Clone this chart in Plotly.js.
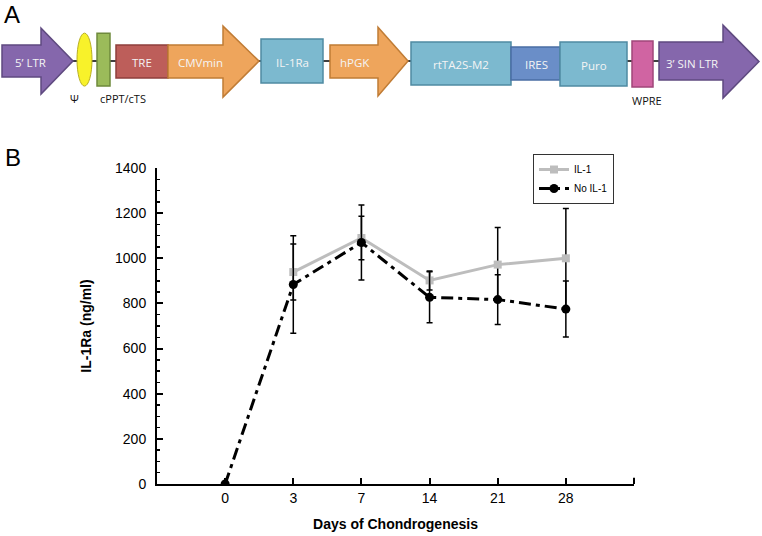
<!DOCTYPE html>
<html>
<head>
<meta charset="utf-8">
<script src="https://cdn.plot.ly/plotly-3.0.1.min.js"></script>
<style>
  body { margin: 0; background: #fff; }
  #plot { width: 762px; height: 536px; }
</style>
</head>
<body>
<div id="plot"></div>
<script>
// Panel B data
var days = ['0', '3', '7', '14', '21', '28'];
var il1Days = ['3', '7', '14', '21', '28'];
var il1Mean = [939, 1090, 902, 972, 1000];
var il1Err = [124, 96, 42, 164, 221];
var noIl1Mean = [0, 884, 1070, 827, 817, 775];
var noIl1Err = [0, 216, 166, 113, 110, 124];

// Panel A construct elements, left to right
var constructLabels = ['5\u2019 LTR', 'TRE', 'CMVmin', 'IL-1Ra', 'hPGK', 'rtTA2S-M2', 'IRES', 'Puro', '3\u2019 SIN LTR'];
var constructNotes = ['\u03a8', 'cPPT/cTS', 'WPRE'];

// plot area in pixels: x 157..634, y 168..484
var L = 157, R = 634, T = 168, B = 484.3;
function px(x) { return (x - L) / (R - L); }
function py(y) { return (B - y) / (B - T); }

// helper: arrow shape path (body then head), given in pixels
function arrowPath(x0, x1, x2, yb0, yb1, yh0, yh1, ym) {
  return 'M' + px(x0) + ',' + py(yb0) + ' L' + px(x1) + ',' + py(yb0) +
    ' L' + px(x1) + ',' + py(yh0) + ' L' + px(x2) + ',' + py(ym) +
    ' L' + px(x1) + ',' + py(yh1) + ' L' + px(x1) + ',' + py(yb1) +
    ' L' + px(x0) + ',' + py(yb1) + ' Z';
}
function box(x0, y0, x1, y1, fill, edge) {
  return {type: 'rect', xref: 'paper', yref: 'paper', x0: px(x0), x1: px(x1), y0: py(y1), y1: py(y0),
    fillcolor: fill, line: {color: edge, width: 1.5}, layer: 'above'};
}
function arrow(pathStr, fill, edge) {
  return {type: 'path', xref: 'paper', yref: 'paper', path: pathStr,
    fillcolor: fill, line: {color: edge, width: 1.5}, layer: 'above'};
}
function label(t, x, y, size, color) {
  return {text: t, xref: 'paper', yref: 'paper', x: px(x), y: py(y), xanchor: 'center', yanchor: 'middle',
    showarrow: false, font: {family: 'Open Sans, sans-serif', size: size, color: color}};
}

var purple = '#8567ac', purpleEdge = '#5f4a80';
var orange = '#eea55c', orangeEdge = '#c07c35';
var teal = '#7cb9cf', tealEdge = '#4f8ba2';

var shapes = [
  // backbone
  {type: 'line', xref: 'paper', yref: 'paper', x0: px(70), x1: px(662), y0: py(61), y1: py(61),
    line: {color: '#000', width: 1.5}, layer: 'above'},
  arrow(arrowPath(2, 41, 73, 45, 77, 28, 94, 61), purple, purpleEdge),
  {type: 'circle', xref: 'paper', yref: 'paper', x0: px(77), x1: px(92), y0: py(86), y1: py(33),
    fillcolor: '#f8f22a', line: {color: '#b9b020', width: 1}, layer: 'above'},
  box(97, 33, 110, 86, '#9bbb5a', '#6f8a3c'),
  box(116, 45, 168, 78, '#bd5e5a', '#8f3f3c'),
  arrow(arrowPath(168, 223, 259, 45, 78, 26, 97, 61), orange, orangeEdge),
  box(261, 39, 323, 83, teal, tealEdge),
  arrow(arrowPath(330, 378, 408, 45, 78, 27, 96, 61), orange, orangeEdge),
  box(411, 42, 511, 85, teal, tealEdge),
  box(511, 47, 560, 80, '#6a8ec8', '#4a6da4'),
  box(560, 42, 627, 86, teal, tealEdge),
  {type: 'rect', xref: 'paper', yref: 'paper', x0: px(632), x1: px(653), y0: py(87), y1: py(41),
    fillcolor: '#d064a2', line: {color: '#a0467a', width: 1.5}, layer: 'above'},
  arrow(arrowPath(659, 723, 759, 42, 80, 25, 98, 61.5), purple, purpleEdge),
  // right-end tick on x axis
  {type: 'line', xref: 'paper', yref: 'paper', x0: 1, x1: 1, y0: 0, y1: py(478),
    line: {color: '#000', width: 2}}
];

var labelPos = [[30, 62], [142, 62], [200, 62], [292, 62], [355, 62], [461, 64], [536, 64], [594, 65], [692, 63]];
var notePos = [[74, 98], [123, 98], [647, 100]];

var annotations = [];
constructLabels.forEach(function (t, i) {
  annotations.push(label(t, labelPos[i][0], labelPos[i][1], 11.5, '#f4f4f4'));
});
constructNotes.forEach(function (t, i) {
  annotations.push(label(t, notePos[i][0], notePos[i][1], 11, '#111'));
});
var panelA = label('A', 12, 14, 24, '#000');
panelA.font.family = 'Liberation Sans, Arial, sans-serif';
var panelB = label('B', 13, 157, 24, '#000');
panelB.font.family = 'Liberation Sans, Arial, sans-serif';
annotations.push(panelA, panelB);

var il1 = {
  x: il1Days, y: il1Mean, name: 'IL-1', type: 'scatter', mode: 'lines+markers',
  line: {color: '#bdbdbd', width: 3},
  marker: {symbol: 'square', size: 8, color: '#bdbdbd'},
  error_y: {type: 'data', array: il1Err, visible: true, color: '#000', thickness: 1.5, width: 3}
};

var noIl1 = {
  x: days, y: noIl1Mean, name: 'No IL-1', type: 'scatter', mode: 'lines+markers',
  line: {color: '#000', width: 3, dash: '12px,5px,4px,5px'},
  marker: {symbol: 'circle', size: 9, color: '#000'},
  error_y: {type: 'data', array: noIl1Err, visible: true, color: '#000', thickness: 1.5, width: 3}
};

var layout = {
  width: 762, height: 536,
  margin: {l: L, r: 762 - R, t: T, b: 536 - B, pad: 0},
  paper_bgcolor: '#fff', plot_bgcolor: '#fff',
  font: {family: 'Liberation Sans, Arial, sans-serif', color: '#000'},
  showlegend: true,
  legend: {x: px(533), y: py(154), xanchor: 'left', yanchor: 'top', bgcolor: '#fff',
    bordercolor: '#333', borderwidth: 1, font: {size: 10}, itemwidth: 30, tracegroupgap: 0},
  xaxis: {
    type: 'category', categoryorder: 'array', categoryarray: days,
    range: [-1, 6], showgrid: false, zeroline: false,
    showline: true, linecolor: '#000', linewidth: 2,
    ticks: 'inside', ticklen: 6, tickwidth: 2, tickcolor: '#000',
    tickfont: {size: 14},
    title: {text: '<b>Days of Chondrogenesis</b>', font: {size: 14}, standoff: 14}
  },
  yaxis: {
    range: [0, 1400], dtick: 200, showgrid: false, zeroline: false,
    showline: true, linecolor: '#000', linewidth: 2,
    ticks: 'inside', ticklen: 6, tickwidth: 2, tickcolor: '#000',
    minor: {dtick: 50, ticks: 'inside', ticklen: 3, tickwidth: 1.5, tickcolor: '#000'},
    tickfont: {size: 14}, ticklabelstandoff: 6,
    title: {text: '<b>IL-1Ra (ng/ml)</b>', font: {size: 14}, standoff: 20}
  },
  shapes: shapes,
  annotations: annotations
};

Plotly.newPlot('plot', [il1, noIl1], layout, {displayModeBar: false, staticPlot: true});
</script>
</body>
</html>
